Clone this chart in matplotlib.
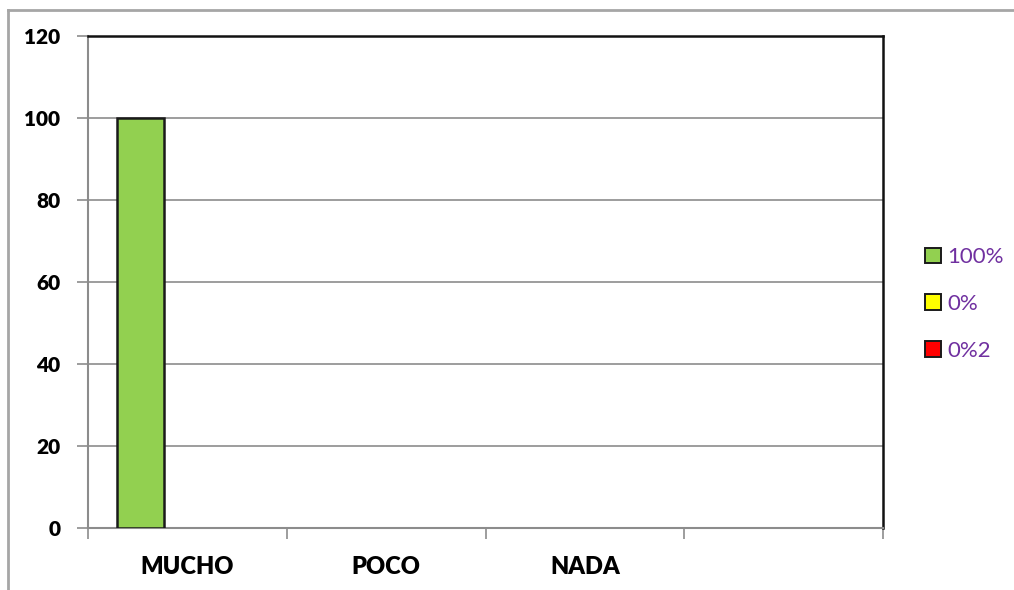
import matplotlib
matplotlib.use("Agg")
import matplotlib.pyplot as plt
from matplotlib.patches import Patch
from matplotlib.lines import Line2D
import numpy as np

categories = ["MUCHO", "POCO", "NADA", ""]
series_names = ["100%", "0%", "0%2"]
series_values = [
    [100, 0, 0, 0],
    [0, 0, 0, 0],
    [0, 0, 0, 0],
]
series_colors = ["#92D050", "#FFFF00", "#FF0000"]
yticks = [0, 20, 40, 60, 80, 100, 120]

plt.rcParams['font.family'] = ['Lato', 'DejaVu Sans']

fig = plt.figure(figsize=(10.14, 5.90), dpi=100)
ax = fig.add_axes([88/1014, 1-528/590, (883-88)/1014, (528-36)/590])

x = np.arange(len(categories))
w = 0.237
for i, (name, vals, col) in enumerate(zip(series_names, series_values, series_colors)):
    lws = [1.8 if v > 0 else 0 for v in vals]
    ax.bar(x + (i-1)*w, vals, width=w, color=col, edgecolor="#1a1a1a", linewidth=lws, zorder=3)

ax.set_xlim(-0.5, len(categories)-0.5)
ax.set_ylim(0, 120)
ax.set_yticks(yticks)
ax.set_yticklabels([str(v) for v in yticks], fontsize=15, fontweight='heavy')
ax.yaxis.grid(True, color="#8c8c8c", linewidth=1.2, zorder=0)
ax.set_xticks(x)
ax.set_xticklabels(categories, fontsize=17, fontweight='heavy')
ax.set_xticks(np.arange(-0.5, len(categories), 1), minor=True)
ax.tick_params(axis='x', which='major', length=0, pad=20)
ax.tick_params(axis='x', which='minor', length=8, color="#8c8c8c", width=1.2)
ax.tick_params(axis='y', length=8, color="#8c8c8c", width=1.2, pad=12)

for s in ['left', 'bottom']:
    ax.spines[s].set_color("#8c8c8c")
    ax.spines[s].set_linewidth(1.5)
for s in ['top', 'right']:
    ax.spines[s].set_color("#111111")
    ax.spines[s].set_linewidth(1.8)

handles = [Patch(facecolor=c, edgecolor="#1a1a1a", linewidth=1.4) for c in series_colors]
leg = fig.legend(handles, series_names, loc='center left', bbox_to_anchor=(0.8925, 0.485),
                 frameon=False, fontsize=16, handlelength=0.7, handleheight=0.7,
                 handletextpad=0.3, labelspacing=1.2)
for t in leg.get_texts():
    t.set_color("#7030A0")

fig.add_artist(Line2D([8/1014, 1], [1-10/590, 1-10/590], color="#a6a6a6", linewidth=2, transform=fig.transFigure))
fig.add_artist(Line2D([8/1014, 8/1014], [0, 1-10/590], color="#a6a6a6", linewidth=2, transform=fig.transFigure))

fig.savefig("out.png", dpi=100)
